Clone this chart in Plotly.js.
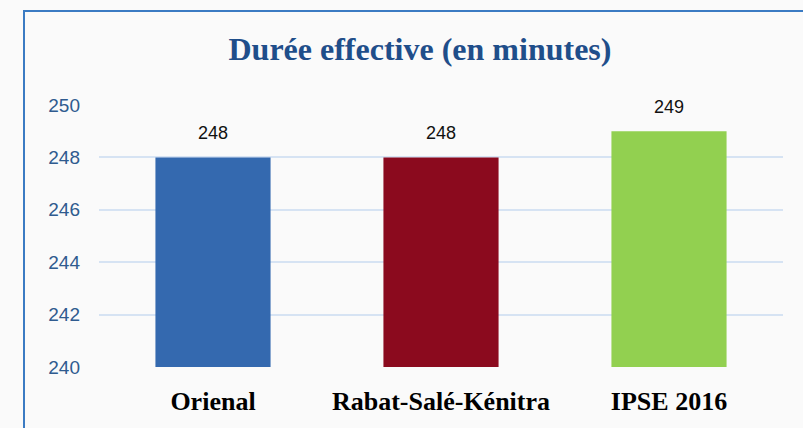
<!DOCTYPE html>
<html>
<head>
<meta charset="utf-8">
<script src="https://cdn.plot.ly/plotly-3.0.1.min.js"></script>
<style>
  body { margin: 0; background: #fafafa; }
  #chart { width: 803px; height: 428px; }
  #frame { position: absolute; left: 23px; top: 10px; width: 790px; height: 430px;
           border-left: 2px solid #3b7bc3; border-top: 2px solid #3b7bc3; pointer-events: none; }
</style>
</head>
<body>
<div id="chart"></div>
<div id="frame"></div>
<script>
// durée effective par région
var regions = ["Orienal", "Rabat-Salé-Kénitra", "IPSE 2016"];
var minutes = [248, 248, 249];
var barColors = ["#3469af", "#8b0a1e", "#92d050"];

var trace = {
    x: regions,
    y: minutes,
    type: "bar",
    marker: {color: barColors},
    hoverinfo: "none"
};

// value labels above each bar
var labels = regions.map(function(r, i){
    return {
        x: r, y: minutes[i], text: String(minutes[i]),
        showarrow: false, yshift: 24,
        font: {family: "Liberation Sans, Arial", size: 18, color: "#111"}
    };
});

var layout = {
    width: 803, height: 428,
    margin: {l: 99, r: 20, t: 105, b: 61},
    paper_bgcolor: "rgba(0,0,0,0)",
    plot_bgcolor: "rgba(0,0,0,0)",
    bargap: 0.495,
    showlegend: false,
    title: {
        text: "<b>Durée effective (en minutes)</b>",
        font: {family: "Liberation Serif, Times New Roman, serif", size: 32, color: "#1f4e8a"},
        x: 0.523, xanchor: "center", y: 0.885, yanchor: "middle"
    },
    xaxis: {
        showline: false, ticks: "",
        tickfont: {family: "Liberation Serif, Times New Roman, serif", size: 26, color: "#000"},
        tickprefix: "<b>", ticksuffix: "</b>",
        ticklabelstandoff: 16
    },
    yaxis: {
        range: [240, 250], dtick: 2,
        showline: false, zeroline: false,
        gridcolor: "#d6e3f3", gridwidth: 1.5,
        tickfont: {family: "Liberation Sans, Arial", size: 19, color: "#2f5b8f"},
        ticklabelstandoff: 18
    },
    annotations: labels
};

Plotly.newPlot("chart", [trace], layout, {displayModeBar: false});
</script>
</body>
</html>
